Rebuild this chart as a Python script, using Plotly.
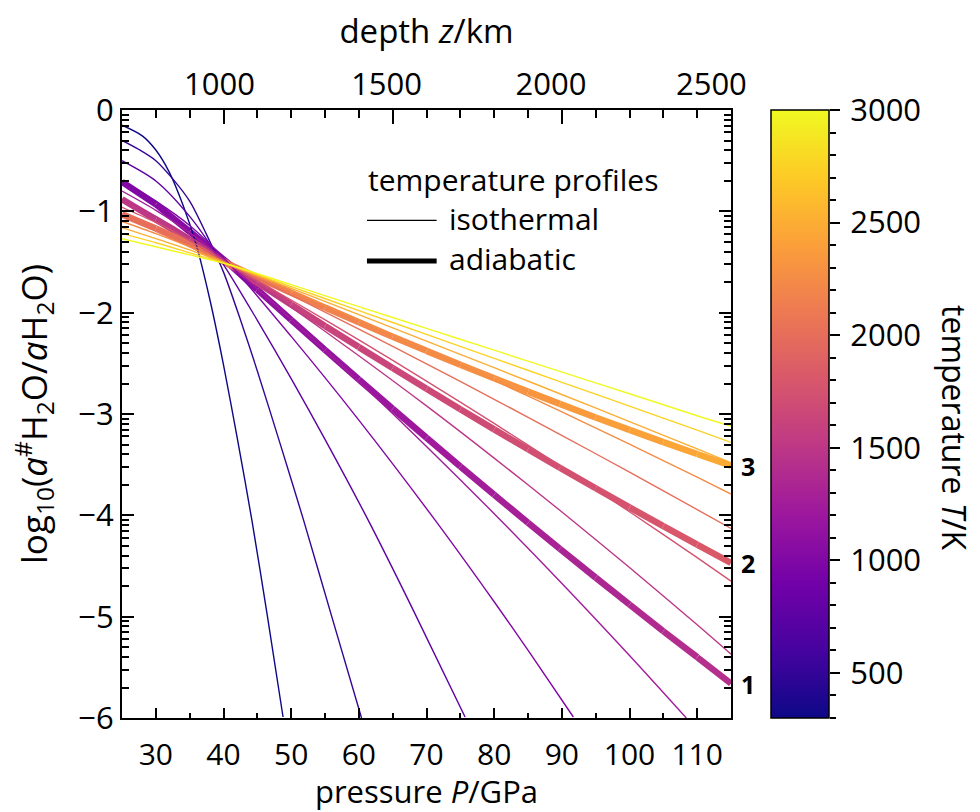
import numpy as np
import plotly.graph_objects as go
from plotly.colors import sample_colorscale

# ---------------- data ----------------
T_MIN, T_MAX = 300, 3000

# isotherms: pressure (GPa) and log10 ratio
iso_300_P = [25, 28, 30, 32, 34, 36, 38, 40, 42, 44.2, 46.5, 48.8]
iso_300_y = [-0.15, -0.255, -0.395, -0.615, -0.935, -1.335, -1.875, -2.515, -3.225, -4.05, -5.0, -5.99]
iso_500_P = [25, 27.5, 30, 32.5, 35, 37.5, 40, 42.5, 45, 48.4, 51.8, 56, 60.4]
iso_500_y = [-0.30, -0.39, -0.50, -0.68, -0.90, -1.23, -1.60, -2.07, -2.575, -3.30, -4.04, -5.0, -6.0]
iso_750_P = [25, 30, 35, 40, 45, 50, 55, 61.4, 68, 75.7]
iso_750_y = [-0.50, -0.70, -1.05, -1.525, -2.075, -2.65, -3.25, -4.05, -4.93, -5.99]
iso_1000_P = [25, 30, 35, 41, 50, 60, 71.3, 80, 85.3, 91.7]
iso_1000_y = [-0.70, -0.90, -1.14, -1.53, -2.234, -3.06, -4.05, -4.853, -5.36, -5.99]
iso_1250_P = [25, 30, 35, 41, 50, 60, 70, 80, 89.7, 100, 108.4]
iso_1250_y = [-0.80, -0.99, -1.21, -1.53, -2.064, -2.68, -3.32, -3.984, -4.65, -5.383, -6.0]
iso_1500_P = [25, 30, 35, 41, 50, 60, 70, 80, 89.7, 100, 110, 115]
iso_1500_y = [-0.88, -1.05, -1.25, -1.53, -1.946, -2.425, -2.92, -3.435, -3.95, -4.515, -5.08, -5.37]
iso_1750_P = [25, 30, 35, 41, 50, 60, 70, 80, 89.7, 100, 110, 115]
iso_1750_y = [-0.96, -1.11, -1.29, -1.53, -1.875, -2.269, -2.675, -3.093, -3.51, -3.965, -4.418, -4.65]
iso_2000_P = [25, 30, 35, 41, 50, 60, 70, 80, 89.7, 100, 110, 115]
iso_2000_y = [-1.03, -1.17, -1.32, -1.53, -1.827, -2.163, -2.505, -2.855, -3.20, -3.574, -3.943, -4.13]
iso_2250_P = [25, 30, 35, 41, 50, 60, 70, 80, 89.7, 100, 110, 115]
iso_2250_y = [-1.10, -1.22, -1.35, -1.53, -1.782, -2.07, -2.365, -2.669, -2.97, -3.298, -3.624, -3.79]
iso_2500_P = [25, 30, 35, 41, 50, 60, 70, 80, 89.7, 100, 110, 115]
iso_2500_y = [-1.16, -1.27, -1.38, -1.53, -1.761, -2.019, -2.28, -2.543, -2.80, -3.075, -3.344, -3.48]
iso_2750_P = [25, 30, 35, 41, 50, 60, 70, 80, 89.7, 100, 110, 115]
iso_2750_y = [-1.22, -1.31, -1.41, -1.53, -1.743, -1.979, -2.215, -2.451, -2.68, -2.923, -3.159, -3.28]
iso_3000_P = [25, 30, 35, 41, 50, 60, 70, 80, 89.7, 100, 110, 115]
iso_3000_y = [-1.27, -1.35, -1.43, -1.53, -1.724, -1.94, -2.155, -2.37, -2.58, -2.80, -3.017, -3.12]

isotherm_T = [300, 500, 750, 1000, 1250, 1500, 1750, 2000, 2250, 2500, 2750, 3000]
isotherm_P = [iso_300_P, iso_500_P, iso_750_P, iso_1000_P, iso_1250_P, iso_1500_P,
              iso_1750_P, iso_2000_P, iso_2250_P, iso_2500_P, iso_2750_P, iso_3000_P]
isotherm_y = [iso_300_y, iso_500_y, iso_750_y, iso_1000_y, iso_1250_y, iso_1500_y,
              iso_1750_y, iso_2000_y, iso_2250_y, iso_2500_y, iso_2750_y, iso_3000_y]

# adiabats: pressure, log10 ratio, temperature along the profile
adi_P = [25, 30, 35, 41, 45, 50, 55, 60, 65, 70, 75, 80, 85, 89.7, 95, 100, 105, 110, 115]
adi1_y = [-0.71, -0.93, -1.20, -1.53, -1.772, -2.071, -2.367, -2.66, -2.949, -3.235, -3.518,
          -3.797, -4.073, -4.33, -4.615, -4.88, -5.144, -5.40, -5.66]
adi1_T = [1000, 1025, 1050, 1080, 1100, 1125, 1150, 1170, 1195, 1220, 1245, 1270, 1295, 1315,
          1340, 1365, 1390, 1415, 1440]
adi2_y = [-0.88, -1.08, -1.28, -1.53, -1.704, -1.919, -2.131, -2.34, -2.547, -2.751, -2.953,
          -3.152, -3.348, -3.53, -3.733, -3.921, -4.107, -4.29, -4.47]
adi2_T = [1500, 1520, 1535, 1560, 1575, 1590, 1610, 1630, 1645, 1665, 1680, 1700, 1720, 1735,
          1755, 1775, 1795, 1810, 1830]
adi3_y = [-1.03, -1.17, -1.32, -1.53, -1.652, -1.803, -1.95, -2.095, -2.237, -2.377, -2.514,
          -2.648, -2.779, -2.90, -3.034, -3.157, -3.278, -3.395, -3.51]
adi3_T = [2000, 2025, 2055, 2085, 2105, 2130, 2160, 2185, 2215, 2240, 2265, 2295, 2320, 2345,
          2375, 2400, 2425, 2455, 2480]
adi_labels = ["1", "2", "3"]

# axis tick labels
p_ticks = [30, 40, 50, 60, 70, 80, 90, 100, 110]
depth_labels = ["1000", "1500", "2000", "2500"]
depth_label_P = [39.4, 64.1, 88.4, 112.1]
cbar_ticks = [500, 1000, 1500, 2000, 2500, 3000]

FONT = "Open Sans"


def tcolor(t):
    return sample_colorscale("Plasma", [(t - T_MIN) / (T_MAX - T_MIN)])[0]


fig = go.Figure()

# adiabats: thick gradient lines (segment by segment)
for ys, ts in [(adi1_y, adi1_T), (adi2_y, adi2_T), (adi3_y, adi3_T)]:
    for i in range(len(adi_P) - 1):
        fig.add_trace(go.Scatter(
            x=adi_P[i:i + 2], y=ys[i:i + 2], mode="lines",
            line=dict(color=tcolor((ts[i] + ts[i + 1]) / 2), width=6.5),
            showlegend=False, hoverinfo="skip"))

# isotherms
for t, ps, ys in zip(isotherm_T, isotherm_P, isotherm_y):
    fig.add_trace(go.Scatter(
        x=ps, y=ys, mode="lines", line=dict(color=tcolor(t), width=1.4, shape="spline", smoothing=0.8),
        showlegend=False, hoverinfo="skip"))

# colorbar carrier
fig.add_trace(go.Scatter(
    x=[None, None], y=[None, None], mode="markers",
    marker=dict(color=[T_MIN, T_MAX], cmin=T_MIN, cmax=T_MAX, colorscale="Plasma",
                showscale=True,
                colorbar=dict(x=0.7745, xanchor="left", xpad=0, ypad=0, y=0.5, yanchor="middle",
                              len=1, lenmode="fraction", thickness=58, thicknessmode="pixels",
                              outlinewidth=1.5, outlinecolor="black",
                              ticks="", showticklabels=False)),
    showlegend=False, hoverinfo="skip"))

# dummy traces to keep the extra axes alive
fig.add_trace(go.Scatter(x=[None], y=[None], xaxis="x2", yaxis="y", showlegend=False))
fig.add_trace(go.Scatter(x=[None], y=[None], xaxis="x3", yaxis="y", showlegend=False))
fig.add_trace(go.Scatter(x=[None], y=[None], xaxis="x", yaxis="y3", showlegend=False))

# minor log-style ticks on the y axis
y_minor = [n + np.log10(k) for n in range(-6, 0) for k in range(2, 10)]

xr = [25, 115]
dom = [0, 609 / 838]

fig.update_layout(
    width=980, height=812,
    margin=dict(l=122, r=20, t=110, b=94, autoexpand=False),
    paper_bgcolor="white", plot_bgcolor="white",
    font=dict(family=FONT, size=31, color="black"),
    xaxis=dict(domain=dom, range=xr, tickvals=p_ticks, ticks="inside", ticklen=10, tickwidth=1.5,
               tickcolor="black", showline=True, linewidth=2, linecolor="black", mirror=True,
               showgrid=False, zeroline=False, ticklabelstandoff=9, tickfont=dict(size=30),
               minor=dict(tickvals=[35, 45, 55, 65, 75, 85, 95, 105], ticks="inside", ticklen=5,
                          tickwidth=1.5, tickcolor="black"),
               title=dict(text="pressure <i>P</i>/GPa", font=dict(size=31), standoff=14)),
    xaxis2=dict(domain=dom, range=xr, overlaying="x", side="top", anchor="y",
                tickvals=[40, 65, 90], ticks="inside", ticklen=14, tickwidth=1.5, tickcolor="black",
                showticklabels=False, showline=False, showgrid=False, zeroline=False,
                minor=dict(tickvals=[30, 35, 45, 50, 55, 60, 70, 75, 80, 85, 95, 100, 105, 110],
                           ticks="inside", ticklen=8, tickwidth=1.5, tickcolor="black")),
    xaxis3=dict(domain=dom, range=xr, overlaying="x", side="top", anchor="y",
                tickvals=depth_label_P, ticktext=depth_labels, ticks="", showline=False,
                showgrid=False, zeroline=False, ticklabelstandoff=8,
                title=dict(text="depth <i>z</i>/km", font=dict(size=33), standoff=8)),
    yaxis=dict(range=[-6, 0], tickvals=list(range(-6, 1)), ticks="inside", ticklen=12, tickwidth=1.5,
               tickcolor="black", showline=True, linewidth=2, linecolor="black", mirror="ticks",
               showgrid=False, zeroline=False,
               minor=dict(tickvals=y_minor, ticks="inside", ticklen=7, tickwidth=1.5, tickcolor="black"),
               title=dict(text="log<sub>10</sub>(<i>a</i><sup>#</sup>H<sub>2</sub>O/<i>a</i>H<sub>2</sub>O)",
                          font=dict(size=35), standoff=20)),
    yaxis3=dict(range=[T_MIN, T_MAX], overlaying="y", anchor="free", position=(829 - 122) / 838,
                side="right", tickvals=cbar_ticks, ticks="outside", ticklen=10, tickwidth=1.5,
                tickcolor="black", showline=False, showgrid=False, zeroline=False, ticklabelstandoff=4,
                minor=dict(dtick=100, tick0=0, ticks="outside", ticklen=6, tickwidth=1.5,
                           tickcolor="black")),
)

# legend (drawn manually)
fig.add_annotation(x=61.0, y=-0.69, xref="x", yref="y", text="temperature profiles", showarrow=False,
                   xanchor="left", yanchor="middle", font=dict(size=30))
fig.add_shape(type="line", x0=61.2, x1=71.5, y0=-1.09, y1=-1.09, xref="x", yref="y",
              line=dict(color="black", width=1.2))
fig.add_annotation(x=73.0, y=-1.07, xref="x", yref="y", text="isothermal", showarrow=False,
                   xanchor="left", yanchor="middle", font=dict(size=30))
fig.add_shape(type="line", x0=61.2, x1=71.5, y0=-1.49, y1=-1.49, xref="x", yref="y",
              line=dict(color="black", width=5))
fig.add_annotation(x=73.0, y=-1.47, xref="x", yref="y", text="adiabatic", showarrow=False,
                   xanchor="left", yanchor="middle", font=dict(size=30))

# adiabat labels at the right end
for lab, ys in zip(adi_labels, [adi1_y, adi2_y, adi3_y]):
    fig.add_annotation(x=(739 - 122) / 838, xref="paper", y=ys[-1], yref="y", text="<b>%s</b>" % lab,
                       showarrow=False, xanchor="left", yanchor="middle", font=dict(size=25))

# colorbar title
fig.add_annotation(x=(955 - 122) / 838, xref="paper", y=(718 - 428) / 608, yref="paper",
                   text="temperature <i>T</i>/K", textangle=90, showarrow=False,
                   xanchor="center", yanchor="middle", font=dict(size=32))

fig.write_html("out.html")
